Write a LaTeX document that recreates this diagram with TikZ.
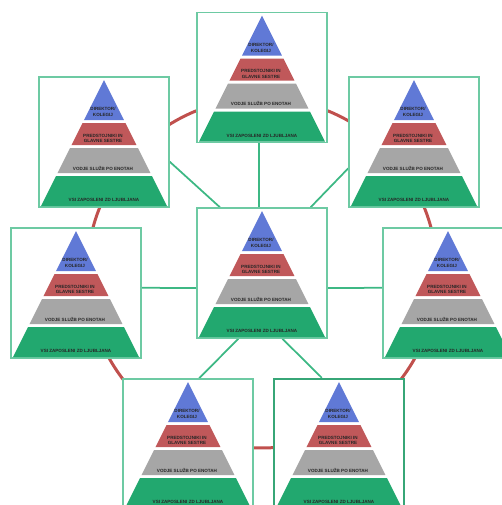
\documentclass[tikz,border=0pt]{standalone}
\usepackage{fontspec}
\setmainfont{Liberation Sans}
\usepackage{tikz}
\usetikzlibrary{calc,backgrounds}
\definecolor{ringred}{HTML}{C0504D}
\definecolor{boxgreen}{HTML}{3DB884}
\definecolor{tierblue}{HTML}{6079D6}
\definecolor{tierred}{HTML}{C0585A}
\definecolor{tiergray}{HTML}{A6A6A6}
\definecolor{tiergreen}{HTML}{22A86F}
\tikzset{
  box/.style={draw=boxgreen!75,line width=0.03cm,fill=white,minimum size=2.6cm,inner sep=0pt},
  spoke/.style={draw=boxgreen,line width=0.035cm},
  ring/.style={draw=ringred,line width=0.06cm},
  lbl/.style={font=\bfseries\fontsize{2.6}{3.3}\selectfont,align=center,inner sep=0pt,text=black!85},
  pyramid/.pic={
    \fill[tierblue] (0,-62) -- (20,-22) -- (-20,-22) -- cycle;
    \fill[tierred] (-21.5,-19) -- (21.5,-19) -- (32.5,3) -- (-32.5,3) -- cycle;
    \fill[tiergray] (-34,6) -- (34,6) -- (46.5,31) -- (-46.5,31) -- cycle;
    \fill[tiergreen] (-48,34) -- (48,34) -- (63,64) -- (-63,64) -- cycle;
    \node[lbl] at (-1,-30) {DIREKTOR/\\KOLEGIJ};
    \node[lbl] at (-1,-3.5) {PREDSTOJNIKI IN\\GLAVNE SESTRE};
    \node[lbl] at (-1,26) {VODJE SLUŽB PO ENOTAH};
    \node[lbl] at (0,58) {VSI ZAPOSLENI ZD LJUBLJANA};
  }
}

\begin{document}
\begin{tikzpicture}[x=0.02cm,y=-0.02cm]
  \useasboundingbox (0,0) rectangle (502,505);
  \clip (0,0) rectangle (502,505);

  \node[box] (hub) at (262,273) {};
  \node[box] (top) at (262,77.5) {};
  \node[box] (ul) at (104,142) {};
  \node[box] (ur) at (414,142) {};
  \node[box] (l) at (76,293) {};
  \node[box] (r) at (448,293) {};
  \node[box] (bl) at (188,444) {};
  \node[box,draw=boxgreen!90!black,line width=0.05cm] (br) at (339,444) {};

  \begin{scope}[on background layer]
    \draw[ring] (hub.center) circle[radius=3.5cm];
    \draw[spoke] ($(hub.north west)!0.475!(hub.north east)$) -- ($(top.south west)!0.475!(top.south east)$);
    \draw[spoke] ($(hub.north west)!0.18!(hub.north east)$) -- ($(ul.north east)!0.65!(ul.south east)$);
    \draw[spoke] ($(hub.north west)!0.87!(hub.north east)$) -- ($(ur.north west)!0.70!(ur.south west)$);
    \draw[spoke] ($(hub.north west)!0.615!(hub.south west)$) -- ($(l.north east)!0.46!(l.south east)$);
    \draw[spoke] ($(hub.north east)!0.615!(hub.south east)$) -- ($(r.north west)!0.46!(r.south west)$);
    \draw[spoke] ($(hub.south west)!0.32!(hub.south east)$) -- ($(bl.north west)!0.585!(bl.north east)$);
    \draw[spoke] ($(hub.south west)!0.655!(hub.south east)$) -- ($(br.north west)!0.37!(br.north east)$);
  \end{scope}

  \foreach \n in {hub,top,ul,ur,l,r,bl,br}
    \pic at (\n.center) {pyramid};
\end{tikzpicture}
\end{document}
